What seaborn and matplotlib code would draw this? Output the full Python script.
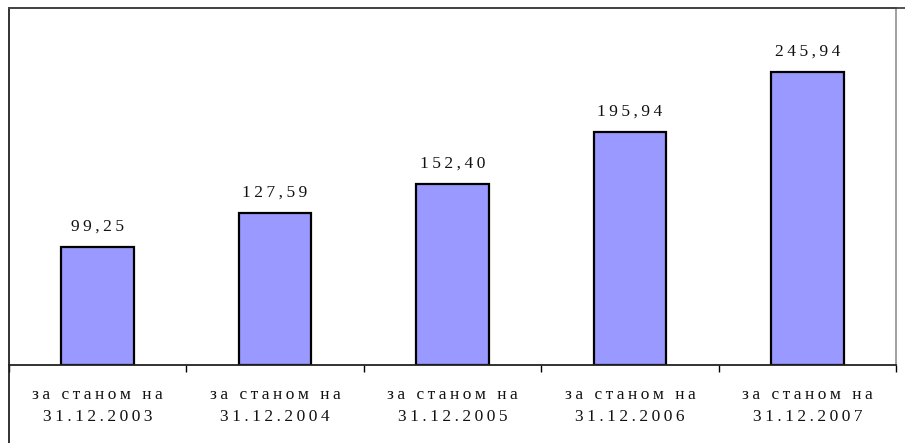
import numpy as np
import pandas as pd
import seaborn as sns
import matplotlib.pyplot as plt
from matplotlib.lines import Line2D

# data
dates = ['31.12.2003', '31.12.2004', '31.12.2005', '31.12.2006', '31.12.2007']
values = [99.25, 127.59, 152.40, 195.94, 245.94]
value_labels = ['99,25', '127,59', '152,40', '195,94', '245,94']

SP = '\u2009'  # thin space to mimic letter spacing


def spaced(s):
    return SP.join(s)


categories = [spaced('за станом на') + '\n' + spaced(d) for d in dates]
df = pd.DataFrame({'cat': categories, 'val': values})

sns.set_style('white')
plt.rcParams['font.family'] = ['Liberation Serif', 'DejaVu Serif']

fig = plt.figure(figsize=(9.05, 4.43), dpi=100)
ax = fig.add_axes([9 / 905, 1 - 365 / 443, 887 / 905, 357 / 443])

sns.barplot(data=df, x='cat', y='val', color='#9999FF', edgecolor='black',
            linewidth=1.6, width=0.41, saturation=1, ax=ax)

ax.bar_label(ax.containers[0], labels=[spaced(v) for v in value_labels],
             padding=9, fontsize=12.5, color='#111111')

ax.set_xlim(-0.5, 4.5)
ax.set_ylim(0, 300)
ax.set_xlabel('')
ax.set_ylabel('')
ax.set_yticks([])

ax.set_xticks(np.arange(-0.5, 5, 1), minor=True)
ax.tick_params(axis='x', which='minor', length=5, width=1, color='black', direction='out', bottom=True)
ax.tick_params(axis='x', which='major', length=0, pad=16, labelsize=12.5, labelcolor='#111111')
for t in ax.get_xticklabels():
    t.set_linespacing(1.48)

for side in ['top', 'left', 'bottom', 'right']:
    ax.spines[side].set_visible(True)
ax.spines['top'].set_color('#444444')
ax.spines['left'].set_color('#222222')
ax.spines['bottom'].set_color('#222222')
ax.spines['right'].set_color('#999999')
for s in ax.spines.values():
    s.set_linewidth(1.3)

# outer frame: left border continues to bottom, top line across
fig.add_artist(Line2D([9 / 905, 9 / 905], [0, 1 - 365 / 443], color='#222222', lw=1.3))
fig.add_artist(Line2D([9 / 905, 1], [1 - 8 / 443, 1 - 8 / 443], color='#444444', lw=1.3))

fig.savefig('out.png', dpi=100)
